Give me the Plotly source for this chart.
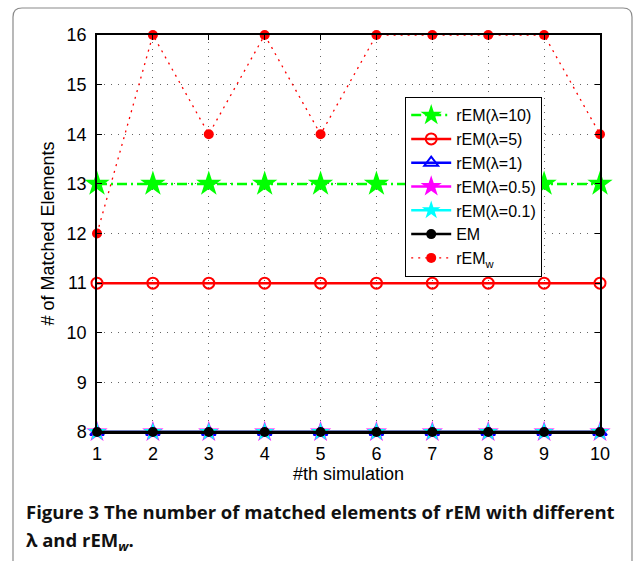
import plotly.graph_objects as go

# ---- data ----
sim = [1, 2, 3, 4, 5, 6, 7, 8, 9, 10]
rem_l10 = [13, 13, 13, 13, 13, 13, 13, 13, 13, 13]
rem_l5 = [11, 11, 11, 11, 11, 11, 11, 11, 11, 11]
rem_l1 = [8, 8, 8, 8, 8, 8, 8, 8, 8, 8]
rem_l05 = [8, 8, 8, 8, 8, 8, 8, 8, 8, 8]
rem_l01 = [8, 8, 8, 8, 8, 8, 8, 8, 8, 8]
em = [8, 8, 8, 8, 8, 8, 8, 8, 8, 8]
rem_w = [12, 16, 14, 16, 14, 16, 16, 16, 16, 14]
y_ticks = [8, 9, 10, 11, 12, 13, 14, 15, 16]

W, H = 635, 561
L, R, T, B = 97, 600, 35, 432  # plot area in pixels

def px(x):
    return (x - L) / (R - L)

def py(y):
    return (B - y) / (B - T)

FONT = "Liberation Sans, Arial, sans-serif"

fig = go.Figure()

def add(y, name, color, symbol, size, dash, width):
    fig.add_trace(go.Scatter(
        x=sim, y=y, name=name, mode="lines+markers",
        line=dict(color=color, width=width, dash=dash),
        marker=dict(symbol=symbol, size=size, color=color,
                    line=dict(color=color, width=2 if "open" in symbol else 0)),
        cliponaxis=False,
    ))

add(rem_l10, "rEM(λ=10)", "#00ff00", "star", 19, "10px,4px,2px,4px", 2.5)
add(rem_l5, "rEM(λ=5)", "#ff0000", "circle-open", 11, "solid", 2.5)
add(rem_l1, "rEM(λ=1)", "#0000ff", "triangle-up-open", 12, "solid", 2.5)
add(rem_l05, "rEM(λ=0.5)", "#ff00ff", "star", 16, "solid", 2.5)
add(rem_l01, "rEM(λ=0.1)", "#00ffff", "star", 14, "solid", 2.5)
add(em, "EM", "#000000", "circle", 10, "solid", 2.5)
add(rem_w, "rEM<sub>w</sub>", "#ff0000", "circle", 10, "2px,5px", 1.3)

grid = dict(showgrid=True, gridcolor="#666666", gridwidth=1, griddash="1px,6px")
fig.update_xaxes(
    range=[1, 10], tickvals=sim, ticks="inside", ticklen=5, tickcolor="black",
    showline=True, linecolor="black", linewidth=1.5, mirror="ticks",
    zeroline=False, tickfont=dict(family=FONT, size=18, color="black"),
    ticklabelstandoff=5,
    title=dict(text="#th simulation", font=dict(family=FONT, size=18, color="black"),
               standoff=3),
    **grid,
)
fig.update_yaxes(
    range=[8, 16], tickvals=y_ticks, ticks="inside", ticklen=5, tickcolor="black",
    showline=True, linecolor="black", linewidth=1.5, mirror="ticks",
    zeroline=False, tickfont=dict(family=FONT, size=18, color="black"),
    ticklabelstandoff=5,
    title=dict(text="# of Matched Elements", font=dict(family=FONT, size=18, color="black"),
               standoff=7),
    **grid,
)

# figure frame with rounded corners
r = 9
x0, x1, y0, y1 = 13, 632, 8, 600
path = (f"M {px(x0)},{py(y1)} L {px(x0)},{py(y0 + r)} "
        f"Q {px(x0)},{py(y0)} {px(x0 + r)},{py(y0)} "
        f"L {px(x1 - r)},{py(y0)} Q {px(x1)},{py(y0)} {px(x1)},{py(y0 + r)} "
        f"L {px(x1)},{py(y1)}")
fig.add_shape(type="path", path=path, xref="paper", yref="paper",
              line=dict(color="#8a8a8a", width=1.2), layer="below")

CAP = "Open Sans, Lato, sans-serif"
fig.add_annotation(
    text="<b>Figure 3</b> <b>The number of matched elements of rEM with different</b>",
    xref="paper", yref="paper", x=px(24), y=py(511), xanchor="left", yanchor="middle",
    showarrow=False, font=dict(family=CAP, size=18.5, color="#111111"))
fig.add_annotation(
    text="<b>λ and rEM<sub><i>w</i></sub>.</b>",
    xref="paper", yref="paper", x=px(24), y=py(541), xanchor="left", yanchor="middle",
    showarrow=False, font=dict(family=CAP, size=18.5, color="#111111"))

fig.update_layout(
    width=W, height=H,
    margin=dict(l=L, r=W - R, t=T, b=H - B),
    paper_bgcolor="white", plot_bgcolor="white",
    showlegend=True,
    legend=dict(x=px(405), y=py(97), xanchor="left", yanchor="top",
                bgcolor="white", bordercolor="black", borderwidth=1.2,
                font=dict(family=FONT, size=16, color="black"),
                tracegroupgap=0, itemwidth=40),
)

fig.write_html("out.html")
